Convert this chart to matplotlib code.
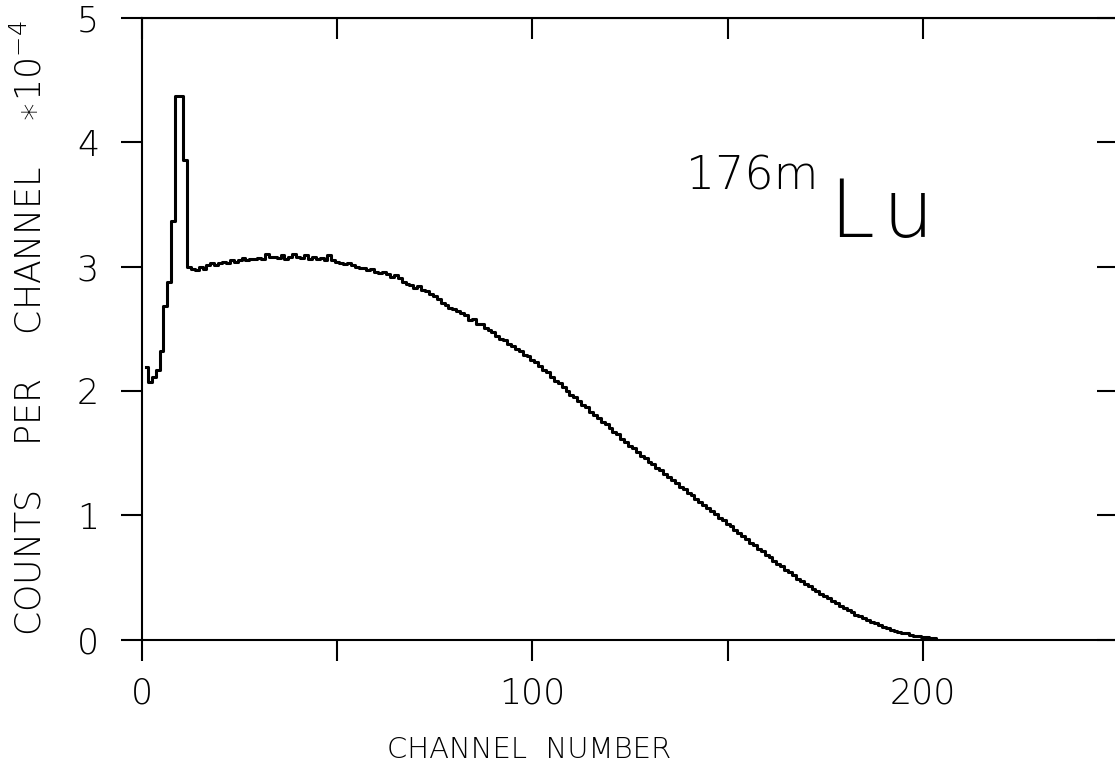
import matplotlib
matplotlib.use("Agg")
import matplotlib.pyplot as plt

# channel spectrum of 176mLu, counts per channel in units of 1e-4
channels = list(range(1, 205))
counts = [
    2.19, 2.07, 2.11, 2.17, 2.32, 2.68, 2.88, 3.37, 4.37, 4.37,
    3.86, 3.00, 2.98, 2.97, 3.00, 2.98, 3.01, 3.03, 3.01, 3.03,
    3.04, 3.03, 3.05, 3.04, 3.05, 3.07, 3.05, 3.06, 3.06, 3.07,
    3.06, 3.10, 3.08, 3.08, 3.07, 3.09, 3.06, 3.08, 3.10, 3.08,
    3.07, 3.09, 3.06, 3.08, 3.06, 3.07, 3.05, 3.09, 3.05, 3.04,
    3.03, 3.02, 3.03, 3.01, 3.00, 2.99, 2.99, 2.97, 2.98, 2.96,
    2.95, 2.96, 2.94, 2.92, 2.93, 2.91, 2.88, 2.86, 2.85, 2.83,
    2.84, 2.81, 2.80, 2.78, 2.76, 2.74, 2.71, 2.69, 2.67, 2.66,
    2.64, 2.63, 2.61, 2.57, 2.58, 2.54, 2.54, 2.51, 2.49, 2.47,
    2.44, 2.42, 2.41, 2.38, 2.36, 2.34, 2.32, 2.29, 2.28, 2.25,
    2.23, 2.20, 2.17, 2.15, 2.11, 2.08, 2.06, 2.03, 2.00, 1.97,
    1.95, 1.92, 1.89, 1.87, 1.83, 1.81, 1.78, 1.75, 1.73, 1.70,
    1.67, 1.65, 1.61, 1.59, 1.56, 1.54, 1.51, 1.48, 1.46, 1.43,
    1.41, 1.38, 1.36, 1.33, 1.31, 1.28, 1.26, 1.23, 1.21, 1.18,
    1.16, 1.13, 1.11, 1.08, 1.06, 1.03, 1.01, 0.98, 0.96, 0.93,
    0.91, 0.88, 0.86, 0.83, 0.81, 0.78, 0.76, 0.73, 0.71, 0.68,
    0.66, 0.63, 0.61, 0.59, 0.56, 0.54, 0.52, 0.49, 0.47, 0.45,
    0.43, 0.41, 0.39, 0.37, 0.35, 0.33, 0.31, 0.29, 0.27, 0.25,
    0.24, 0.22, 0.20, 0.19, 0.17, 0.16, 0.14, 0.13, 0.12, 0.10,
    0.09, 0.08, 0.07, 0.06, 0.05, 0.05, 0.04, 0.03, 0.03, 0.02,
    0.02, 0.01, 0.01, 0.00,
]

x_ticks = [0, 50, 100, 150, 200, 250]
x_labels = ["0", "", "100", "", "200", ""]
y_ticks = [0, 1, 2, 3, 4, 5]

plt.rcParams["font.weight"] = "light"

W, H = 1115, 776
fig = plt.figure(figsize=(W / 100, H / 100), dpi=100)
ax = fig.add_axes([142 / W, 1 - 639.5 / H, 976 / W, 621.5 / H])

ax.step(channels, counts, where="mid", color="black", lw=2.2)

ax.set_xlim(0, 250)
ax.set_ylim(0, 5)
ax.set_xticks(x_ticks)
ax.set_xticklabels(x_labels)
ax.set_yticks(y_ticks)
for s in ax.spines.values():
    s.set_linewidth(1.5)
ax.tick_params(direction="out", length=15, width=1.5, labelsize=25)
ax.tick_params(axis="x", pad=12)
ax.tick_params(axis="y", pad=16)

top = ax.secondary_xaxis("top")
top.set_xticks(x_ticks)
top.tick_params(direction="in", length=15, width=1.5, labeltop=False)
right = ax.secondary_yaxis("right")
right.set_yticks(y_ticks)
right.tick_params(direction="in", length=15, width=1.5, labelright=False)

fig.text(529 / W, 1 - 750 / H, "CHANNEL  NUMBER", ha="center", va="center", fontsize=21)
fig.text(30 / W, 1 - 328 / H, "COUNTS    PER    CHANNEL    $\\ast10^{-4}$",
         ha="center", va="center", rotation=90, fontsize=25)

fig.text(818 / W, 1 - 190 / H, "176m", ha="right", va="baseline", fontsize=33)
fig.text(830 / W, 1 - 237 / H, "L\u200au", ha="left", va="baseline", fontsize=58)

fig.savefig("out.png", dpi=100)
